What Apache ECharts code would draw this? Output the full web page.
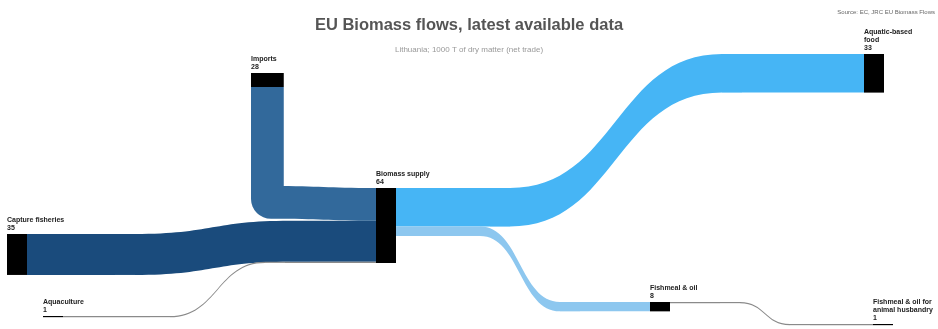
<!DOCTYPE html>
<html>
<head>
<meta charset="utf-8">
<script src="https://cdn.jsdelivr.net/npm/echarts@6/dist/echarts.min.js"></script>
<style>
  html, body { margin: 0; padding: 0; background: #fff; }
  #chart { width: 938px; height: 329px; }
</style>
</head>
<body>
<div id="chart"></div>
<script>
  // data: 1000 T of dry matter
  var nodeNames = ['Imports', 'Capture fisheries', 'Aquaculture', 'Biomass supply', 'Aquatic-based food', 'Fishmeal & oil', 'Fishmeal & oil for animal husbandry'];
  var nodeValues = [28, 35, 1, 64, 33, 8, 1];
  var linkSources = ['Imports', 'Capture fisheries', 'Aquaculture', 'Biomass supply', 'Biomass supply', 'Fishmeal & oil'];
  var linkTargets = ['Biomass supply', 'Biomass supply', 'Biomass supply', 'Aquatic-based food', 'Fishmeal & oil', 'Fishmeal & oil for animal husbandry'];
  var linkValues = [28, 35, 1, 33, 8, 1];

  // layout (pixel position of each node's top-left corner)
  var W = 938, H = 329;
  var pxPerUnit = 1.17;
  var nodePos = {
    'Imports': [251, 186],
    'Capture fisheries': [7, 234],
    'Aquaculture': [43, 316],
    'Biomass supply': [376, 188],
    'Aquatic-based food': [864, 54],
    'Fishmeal & oil': [650, 302],
    'Fishmeal & oil for animal husbandry': [873, 324]
  };
  var importsTop = 73;
  var bioY = nodePos['Biomass supply'][1];
  var captureEndY = bioY + linkValues[0] * pxPerUnit;
  var aquaEndY = captureEndY + linkValues[1] * pxPerUnit;
  var fishmealStartY = bioY + linkValues[3] * pxPerUnit;
  // bends: hidden nodes that keep a band straight before and after its turn
  var linkVia = {
    1: [[115, nodePos['Capture fisheries'][1]], [290, captureEndY]],
    2: [[150, nodePos['Aquaculture'][1]], [265, aquaEndY]],
    3: [[490, bioY], [722, nodePos['Aquatic-based food'][1]]],
    4: [[460, fishmealStartY], [560, nodePos['Fishmeal & oil'][1]]],
    5: [[720, nodePos['Fishmeal & oil'][1]], [790, nodePos['Fishmeal & oil for animal husbandry'][1]]]
  };
  var linkColors = ['#32699b', '#1a4b7c', '#8a8a8a', '#46b5f5', '#8dc7ef', '#8a8a8a'];
  var font = 'Liberation Sans, Arial, sans-serif';

  // column 0 holds Imports + Capture + Aquaculture -> sets the value scale
  var col0 = nodeValues[0] + nodeValues[1] + nodeValues[2];
  var mainGap = (H - col0 * pxPerUnit) / 2;

  var labelStyle = {
    show: true,
    position: [0, -2],
    align: 'left',
    verticalAlign: 'bottom',
    fontFamily: font,
    fontSize: 7,
    fontWeight: 'bold',
    lineHeight: 8,
    color: '#222',
    width: 62,
    overflow: 'break',
    formatter: '{b}\n{c}'
  };

  var mainNodes = nodeNames.map(function (n, i) {
    var item = {
      name: n,
      value: nodeValues[i],
      localX: nodePos[n][0] / W,
      localY: nodePos[n][1] / H,
      itemStyle: { color: '#000' }
    };
    if (n === 'Imports') {
      // the turning part of the imports band; the label sits on the vertical series
      item.itemStyle = { color: linkColors[0], borderRadius: [0, 0, 0, 20] };
      item.label = { show: false };
    }
    return item;
  });

  var mainLinks = [];
  linkSources.forEach(function (s, i) {
    var chain = [s];
    (linkVia[i] || []).forEach(function (p, k) {
      var viaName = 'via ' + i + '-' + k;
      mainNodes.push({
        name: viaName,
        value: linkValues[i],
        localX: p[0] / W,
        localY: p[1] / H,
        itemStyle: { color: linkColors[i] },
        label: { show: false }
      });
      chain.push(viaName);
    });
    chain.push(linkTargets[i]);
    for (var k = 0; k < chain.length - 1; k++) {
      mainLinks.push({
        source: chain[k],
        target: chain[k + 1],
        value: linkValues[i],
        lineStyle: { color: linkColors[i], opacity: 1 }
      });
    }
  });

  var myChart = echarts.init(document.getElementById('chart'));
  myChart.setOption({
    animation: false,
    title: [
      {
        text: 'EU Biomass flows, latest available data',
        left: 'center',
        top: 12,
        textStyle: { fontFamily: font, fontSize: 16.5, fontWeight: 'bold', color: '#555' }
      },
      {
        text: 'Lithuania; 1000 T of dry matter (net trade)',
        left: 'center',
        top: 41,
        textStyle: { fontFamily: font, fontSize: 8, fontWeight: 'normal', color: '#999' }
      },
      {
        text: 'Source: EC, JRC EU Biomass Flows',
        right: 3,
        top: 9,
        padding: 0,
        textStyle: { fontFamily: font, fontSize: 6, fontWeight: 'normal', color: '#666' }
      }
    ],
    series: [
      {
        type: 'sankey',
        left: 0,
        top: 0,
        width: W,
        height: H,
        nodeWidth: 20,
        nodeGap: mainGap,
        layoutIterations: 0,
        draggable: false,
        emphasis: { disabled: true },
        label: labelStyle,
        itemStyle: { borderWidth: 0 },
        lineStyle: { curveness: 0.5, opacity: 1 },
        data: mainNodes,
        links: mainLinks
      },
      {
        // vertical drop of the imports band
        type: 'sankey',
        orient: 'vertical',
        left: nodePos['Imports'][0],
        top: 0,
        width: nodeValues[0] * pxPerUnit,
        height: H,
        nodeWidth: 14,
        nodeGap: 0,
        layoutIterations: 0,
        draggable: false,
        emphasis: { disabled: true },
        label: labelStyle,
        itemStyle: { borderWidth: 0 },
        lineStyle: { curveness: 0.5, opacity: 1 },
        data: [
          { name: 'Imports', value: nodeValues[0], localX: 0, localY: importsTop / H, itemStyle: { color: '#000' } },
          { name: 'Imports drop', value: nodeValues[0], localX: 0, localY: nodePos['Imports'][1] / H,
            itemStyle: { color: 'rgba(0,0,0,0)' }, label: { show: false } }
        ],
        links: [
          { source: 'Imports', target: 'Imports drop', value: linkValues[0],
            lineStyle: { color: linkColors[0], opacity: 1 } }
        ]
      }
    ]
  });
</script>
</body>
</html>
